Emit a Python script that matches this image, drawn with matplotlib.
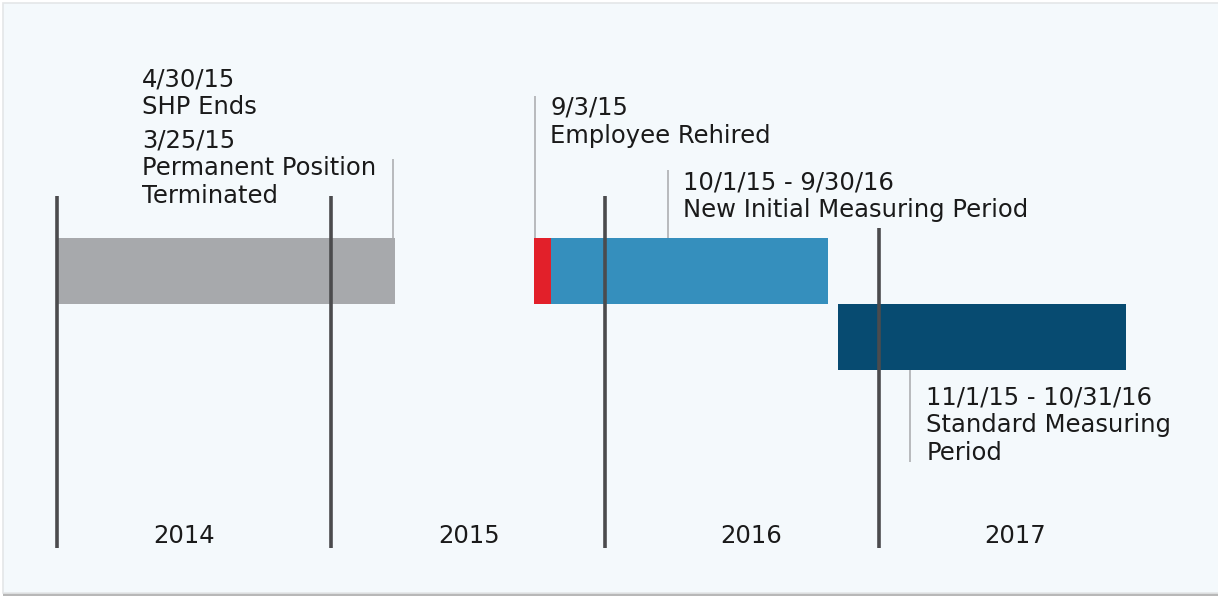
import matplotlib.pyplot as plt
from matplotlib.patches import Rectangle

# timeline data (fractional years)
years = [2014, 2015, 2016, 2017]
year_label_x = [2014.465, 2015.505, 2016.535, 2017.495]
year_line_top = [196, 196, 196, 228]

bar_names = ["Prior employment", "Break in service", "New Initial Measuring Period", "Standard Measuring Period"]
bar_start = [2014.0, 2015.741, 2015.803, 2016.850]
bar_end = [2015.234, 2015.803, 2016.814, 2017.901]
bar_row = [0, 0, 0, 1]
bar_colors = ["#a7a9ac", "#e2202a", "#358fbd", "#074b71"]

# annotations: leader x, leader top/bottom, text x, first baseline y, text
note_x = [2015.228, 2015.745, 2016.230, 2017.113]
note_y0 = [159, 96, 170, 370]
note_y1 = [238, 238, 238, 462]
note_text_x = [2014.310, 2014.310, 2015.800, 2016.285, 2017.172]
note_text_y = [87, 148, 115, 190, 405]
note_text = ["4/30/15\nSHP Ends",
             "3/25/15\nPermanent Position\nTerminated",
             "9/3/15\nEmployee Rehired",
             "10/1/15 - 9/30/16\nNew Initial Measuring Period",
             "11/1/15 - 10/31/16\nStandard Measuring\nPeriod"]

W, H = 1218, 596
px_per_year = 274.0
x0_px = 57
line_step = 27.5

fig = plt.figure(figsize=(W / 100, H / 100), dpi=100)
fig.patch.set_facecolor("white")
fig.patches.append(Rectangle((3 / W, 0), 1, (H - 3) / H, transform=fig.transFigure,
                             facecolor="#b8b8b8", edgecolor="none", zorder=-3))
fig.patches.append(Rectangle((3 / W, 3.5 / H), 1, (H - 6.5) / H, transform=fig.transFigure,
                             facecolor="#f4f9fc", edgecolor="#e4e6e8", lw=1.2, zorder=-2))

ax = fig.add_axes([0, 0, 1, 1])
ax.set_xlim(2014 - x0_px / px_per_year, 2014 + (W - x0_px) / px_per_year)
ax.set_ylim(H, 0)
ax.axis("off")

row_top = 238
row_h = 66
for s, e, r, c in zip(bar_start, bar_end, bar_row, bar_colors):
    ax.barh(row_top + r * row_h + row_h / 2, e - s, left=s, height=row_h, color=c, zorder=1)

for yr, top in zip(years, year_line_top):
    ax.vlines(yr, top, 548, color="#4b4b4d", lw=2.6, zorder=3)

for lx, y0, y1 in zip(note_x, note_y0, note_y1):
    ax.vlines(lx, y0, y1, color="#b3b5b8", lw=1.3, zorder=2)

fs = 17.5
font = "DejaVu Sans"
for tx, ty, t in zip(note_text_x, note_text_y, note_text):
    # baseline alignment uses the last line, so shift down by the extra lines
    last = ty + line_step * t.count("\n")
    ax.text(tx, last, t, fontsize=fs, family=font, color="#1a1a1a",
            va="baseline", ha="left", linespacing=1.19)

for yx, yr in zip(year_label_x, years):
    ax.text(yx, 543, str(yr), fontsize=fs, family=font, color="#1a1a1a",
            ha="center", va="baseline")

fig.savefig("out.png", dpi=100, facecolor=fig.get_facecolor())
